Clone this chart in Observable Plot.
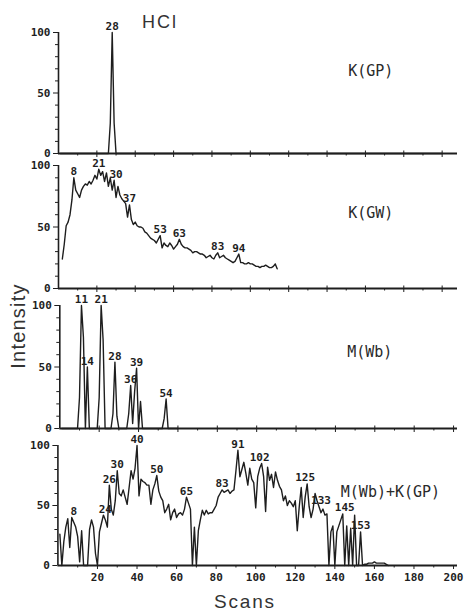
<!DOCTYPE html>
<html><head><meta charset="utf-8">
<script src="https://cdn.jsdelivr.net/npm/d3@7"></script>
<script src="https://cdn.jsdelivr.net/npm/@observablehq/plot@0.6"></script>
<style>
body{margin:0;background:#fff;}
#chart{position:relative;width:473px;height:616px;overflow:hidden;background:#fff;}
#chart svg{position:absolute;left:0;top:0;}
</style></head><body>
<div id="chart"></div>
<script>
// ---------- data ----------
const panelNames = ["K(GP)", "K(GW)", "M(Wb)", "M(Wb)+K(GP)"];

const kgpScans  = [1, 26, 27, 28, 29, 30, 200];
const kgpValues = [0, 0, 25, 100, 25, 0, 0];
const kgpPeaks  = [28];

const kgwScans = d3.range(2, 115);
const kgwValues = [24,36,51,54,60,72,90,80,77,74,80,83,85,84,87,85,88,92,89,97,
  92,95,87,94,83,90,80,88,74,83,76,73,71,69,58,68,56,52,54,51,
  50,50,49,46,45,43,41,40,39,37,40,43,33,37,35,34,37,35,32,34,
  36,40,36,34,33,33,32,31,29,30,30,29,28,28,27,25,26,27,25,24,
  27,29,25,26,27,25,24,23,22,21,22,25,28,21,21,20,20,21,20,20,
  19,18,18,17,18,18,19,18,17,17,18,20,16];
const kgwPeaks = [8, 21, 30, 37, 53, 63, 83, 94];

const mwbScans = d3.range(1, 61);
const mwbValues = [0,0,0,0,0,0,0,0,0,25, 100,74,0,50,0,0,0,0,0,25,
  100,72,0,0,0,0,12,54,10,0, 0,0,0,0,12,35,4,30,49,0,
  22,0,0,0,0,0,0,0,0,0, 0,0,8,24,0,0,0,0,0,0];
const mwbPeaks = [11, 14, 21, 28, 36, 39, 54];

const mixScans = d3.range(1, 168);
const mixValues = [26,0,20,32,39,15,40,36,32,24, 3,29,0,0,0,30,38,32,10,0,
  28,35,42,38,32,67,47,42,54,79, 60,58,63,57,51,65,79,72,81,100,
  58,72,70,69,67,67,51,63,68,75, 62,57,54,44,47,51,38,44,47,40,
  43,44,42,47,57,52,47,0,32,0, 29,38,46,42,46,43,44,44,47,50,
  57,60,63,61,62,63,60,62,63,79, 96,74,80,86,77,67,81,72,69,48,
  74,81,85,74,45,82,71,76,65,78, 71,66,63,54,58,50,54,52,49,54,
  29,49,65,40,57,68,49,40,47,60, 54,49,44,47,42,43,0,28,33,0,
  28,33,38,43,0,33,0,31,0,42, 0,0,28,0,1,1,2,2,2,3, 2,2,2,2,2,1,0];
const mixPeaks = [8, 24, 26, 30, 40, 50, 65, 83, 91, 102, 125, 133, 145, 153];

const xMajor = [20, 40, 60, 80, 100, 120, 140, 160, 180, 200];
const xMinor = [10, 30, 50, 70, 90, 110, 130, 150, 170, 190];
const yMajor = [0, 50, 100];
const yMinor = [10, 20, 30, 40, 60, 70, 80, 90];

// ---------- layout ----------
const W = 473, H = 616, ink = "#1e1e1e";
const panels = [
  {name: panelNames[0], scans: kgpScans, values: kgpValues, peaks: kgpPeaks, top: 32,  zero: 153, left: 58,   xMax: 208, nameX: 151, nameY: 68, bottom: false},
  {name: panelNames[1], scans: kgwScans, values: kgwValues, peaks: kgwPeaks, top: 165, zero: 288, left: 58,   xMax: 208, nameX: 151, nameY: 61, bottom: false},
  {name: panelNames[2], scans: mwbScans, values: mwbValues, peaks: mwbPeaks, top: 305, zero: 428, left: 59.3, xMax: 202, nameX: 146, nameY: 62, bottom: false},
  {name: panelNames[3], scans: mixScans, values: mixValues, peaks: mixPeaks, top: 445, zero: 565, left: 57.4, xMax: 202, nameX: 143, nameY: 61, bottom: true}
];

function peakLabels(scans, values, peaks) {
  return peaks.map(n => {
    let best = 0;
    scans.forEach((s, i) => { if (Math.abs(s - n) <= 1 && values[i] > best) best = values[i]; });
    return {scan: n, value: best, text: String(n)};
  });
}

function makePanel(p) {
  const rows = p.scans.map((s, i) => ({scan: s, value: p.values[i]}));
  return Plot.plot({
    width: W, height: H,
    marginTop: p.top, marginBottom: H - p.zero, marginLeft: p.left, marginRight: 16,
    style: {background: "transparent", overflow: "visible", color: ink,
            fontFamily: "'DejaVu Sans Mono', monospace", fontSize: "11px", fontWeight: "bold"},
    x: {domain: [0, p.xMax], ticks: xMajor, tickSize: 4, tickPadding: 4,
        tickFormat: p.bottom ? (d => String(d)) : (() => ""), label: null},
    y: {domain: [0, 100], ticks: yMajor, tickSize: 5, tickPadding: 3, tickFormat: d => String(d), label: null},
    marks: [
      Plot.ruleX(xMinor, {x: d => d, y1: 0, y2: 0, insetBottom: -2.5, stroke: ink}),
      Plot.ruleX(p.bottom ? [] : xMajor, {x: d => d, y1: 0, y2: 0, insetTop: -2.5, stroke: ink}),
      Plot.ruleY(yMinor, {y: d => d, x1: 0, x2: 0, insetLeft: -3, stroke: ink}),
      Plot.ruleX([0], {y1: 0, y2: 100, stroke: ink, strokeWidth: 1.6}),
      Plot.ruleY([0], {stroke: ink, strokeWidth: 2.2}),
      Plot.line(rows, {x: "scan", y: "value", stroke: ink, strokeWidth: 1.4}),
      Plot.text(peakLabels(p.scans, p.values, p.peaks), {x: "scan", y: "value", text: "text", dy: -6,
        fill: ink, fontSize: 11, fontWeight: "bold"}),
      Plot.text([p.name], {x: p.nameX, y: p.nameY, text: d => d, textAnchor: "start",
        fill: "#2a2a2a", fontSize: 15, fontWeight: "normal", fontFamily: "'DejaVu Sans Mono', monospace"})
    ]
  });
}

const chart = document.getElementById("chart");
panels.forEach(p => chart.appendChild(makePanel(p)));

// titles
const ov = d3.create("svg").attr("width", W).attr("height", H)
  .style("font-family", "'Liberation Sans', Arial, sans-serif").style("fill", "#333");
ov.append("text").attr("x", 160).attr("y", 28).attr("text-anchor", "middle")
  .style("font-size", "18px").style("letter-spacing", "2px").text("HCl");
ov.append("text").attr("x", 245).attr("y", 608).attr("text-anchor", "middle")
  .style("font-size", "19px").style("letter-spacing", "1.8px").text("Scans");
ov.append("text").attr("transform", "translate(25,326) rotate(-90)").attr("text-anchor", "middle")
  .style("font-size", "20px").style("letter-spacing", "1.2px").text("Intensity");
chart.appendChild(ov.node());
</script>
</body></html>
